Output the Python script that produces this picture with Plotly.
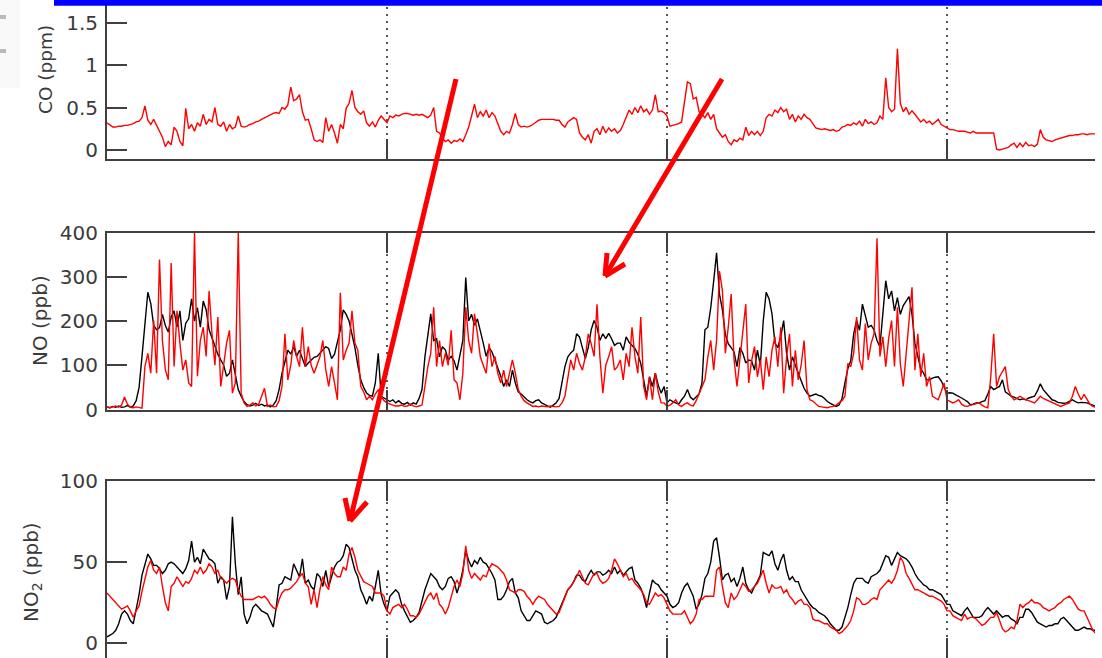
import plotly.graph_objects as go

W, H = 1102, 658
STEP_H = 0.25  # quarter-hourly samples

co_ppm = [0.32,0.29,0.27,0.27,0.28,0.28,0.29,0.29,0.30,0.31,0.33,0.34,
          0.38,0.52,0.35,0.30,0.36,0.28,0.22,0.15,0.04,0.10,0.06,0.27,
          0.22,0.10,0.05,0.49,0.25,0.30,0.22,0.32,0.28,0.42,0.30,0.36,
          0.33,0.50,0.30,0.28,0.33,0.22,0.30,0.25,0.27,0.40,0.28,0.27,
          0.28,0.30,0.31,0.33,0.34,0.36,0.38,0.40,0.41,0.43,0.44,0.43,
          0.50,0.48,0.53,0.74,0.58,0.60,0.65,0.45,0.35,0.36,0.25,0.12,
          0.10,0.12,0.09,0.38,0.22,0.30,0.20,0.08,0.30,0.25,0.49,0.55,
          0.70,0.50,0.45,0.42,0.46,0.32,0.28,0.33,0.27,0.35,0.40,0.36,
          0.32,0.40,0.38,0.41,0.40,0.42,0.43,0.43,0.42,0.41,0.42,0.41,
          0.42,0.40,0.38,0.41,0.50,0.22,0.20,0.14,0.10,0.12,0.08,0.11,
          0.10,0.13,0.10,0.18,0.27,0.40,0.54,0.38,0.45,0.40,0.47,0.38,
          0.44,0.40,0.30,0.22,0.18,0.22,0.20,0.30,0.43,0.30,0.27,0.28,
          0.27,0.28,0.30,0.33,0.35,0.36,0.36,0.36,0.36,0.36,0.35,0.35,
          0.30,0.27,0.33,0.35,0.38,0.36,0.20,0.15,0.12,0.18,0.08,0.22,
          0.25,0.18,0.28,0.20,0.26,0.22,0.25,0.20,0.23,0.30,0.38,0.47,
          0.42,0.50,0.44,0.52,0.45,0.48,0.42,0.47,0.65,0.45,0.46,0.44,
          0.40,0.28,0.29,0.30,0.31,0.33,0.55,0.80,0.78,0.60,0.62,0.45,
          0.42,0.38,0.44,0.36,0.42,0.25,0.20,0.15,0.18,0.10,0.06,0.12,
          0.10,0.14,0.12,0.27,0.17,0.22,0.18,0.22,0.17,0.22,0.38,0.42,
          0.40,0.47,0.44,0.50,0.45,0.48,0.36,0.42,0.33,0.40,0.36,0.42,
          0.38,0.36,0.31,0.26,0.25,0.24,0.25,0.24,0.23,0.24,0.22,0.23,
          0.27,0.28,0.30,0.29,0.32,0.30,0.34,0.28,0.36,0.31,0.33,0.30,
          0.32,0.40,0.36,0.85,0.50,0.45,0.48,1.19,0.55,0.45,0.50,0.42,
          0.46,0.42,0.38,0.33,0.36,0.32,0.34,0.30,0.33,0.36,0.30,0.28,
          0.26,0.24,0.24,0.23,0.22,0.22,0.22,0.21,0.20,0.22,0.20,0.20,
          0.20,0.20,0.20,0.20,0.20,0.01,0.00,0.01,0.02,0.03,0.06,0.08,
          0.03,0.08,0.04,0.09,0.05,0.06,0.04,0.07,0.24,0.15,0.12,0.11,
          0.10,0.12,0.13,0.14,0.15,0.16,0.17,0.17,0.18,0.18,0.19,0.19,
          0.18,0.19,0.19,0.19]

no_black = [6,4,7,5,8,5,6,9,5,8,20,50,
            120,200,265,240,190,180,185,215,190,175,209,223,
            186,223,156,195,205,250,200,230,186,245,225,180,
            160,142,125,112,100,75,82,112,80,45,30,18,
            11,8,10,14,9,12,8,10,6,10,20,45,
            82,110,134,125,142,120,134,115,97,105,112,118,
            120,127,135,142,138,115,125,150,180,225,215,200,
            171,140,100,67,50,37,32,30,60,127,30,25,
            22,18,22,15,20,14,12,16,10,15,12,25,
            45,119,165,216,156,160,119,142,135,112,120,110,
            89,119,156,298,200,215,190,205,180,150,120,140,
            130,112,97,75,52,67,52,89,60,40,35,28,
            22,18,15,20,22,15,12,8,5,10,15,25,
            60,97,119,128,134,171,164,142,115,140,180,201,
            186,156,171,160,172,160,145,150,150,134,164,152,
            145,138,125,104,67,30,74,52,82,55,37,52,
            15,22,18,15,12,22,30,45,28,22,28,35,
            60,180,186,230,290,354,260,225,170,149,140,130,
            97,140,127,105,112,110,89,134,100,200,265,250,
            216,150,140,165,201,127,89,119,100,80,65,48,
            37,30,32,35,32,30,25,18,14,10,7,10,
            25,60,92,110,171,201,179,238,210,186,190,180,
            156,142,216,291,250,268,223,253,215,235,245,255,
            215,150,120,92,82,67,67,71,73,74,65,50,
            37,38,37,33,30,26,22,18,11,12,15,15,
            18,20,35,52,45,48,52,67,40,35,30,28,
            25,22,24,22,26,28,30,42,58,45,37,28,
            22,20,16,15,14,15,19,22,18,15,16,15,
            15,12,9,7]

no_red = [5,4,6,8,5,10,28,12,5,4,6,5,
          3,97,127,82,201,82,339,156,90,67,331,97,
          223,149,89,112,60,52,400,75,156,186,120,268,
          171,100,209,52,97,150,179,37,60,400,37,15,
          7,10,15,8,12,30,48,7,10,6,7,20,
          52,171,67,100,156,120,97,186,97,142,100,82,
          100,119,156,90,52,97,60,22,264,112,134,150,
          223,150,134,52,40,22,30,22,35,45,30,20,
          15,12,10,8,8,10,7,8,12,8,6,8,
          10,52,97,127,231,97,156,97,127,100,179,67,
          60,22,82,231,156,127,216,171,119,100,82,149,
          97,120,82,60,89,52,82,112,82,45,30,20,
          15,10,7,8,6,8,7,6,8,7,6,7,
          15,30,67,112,89,127,104,89,119,171,149,120,
          238,119,37,100,119,142,89,97,112,67,127,97,
          186,120,82,209,52,22,74,22,82,40,15,15,
          7,10,15,22,10,7,12,15,10,8,20,37,
          50,67,119,156,89,156,313,268,127,186,261,112,
          52,112,171,238,60,110,142,74,112,45,119,74,
          134,164,97,186,37,119,171,52,134,67,100,156,
          45,22,19,12,7,6,5,4,6,7,10,15,
          20,30,104,97,127,209,112,89,194,112,150,171,
          387,120,164,97,160,201,97,231,104,52,130,201,
          276,89,171,74,127,52,74,30,25,22,40,60,
          22,18,15,18,22,12,8,7,10,11,13,15,
          10,6,4,74,171,52,74,85,97,45,30,22,
          25,30,26,22,20,18,15,22,30,25,22,18,
          15,12,9,7,10,12,15,30,52,35,22,34,
          22,12,7,5]

no2_black = [4,5,6,8,12,18,20,18,14,12,20,30,
             42,48,55,52,48,48,46,43,45,49,50,49,
             47,45,43,46,51,63,50,53,49,58,55,52,
             51,49,37,41,39,27,35,78,49,30,41,18,
             12,16,22,24,22,20,19,18,14,10,22,36,
             37,41,40,39,49,45,41,52,37,39,35,33,
             43,41,35,45,35,41,47,50,51,54,61,59,
             52,45,41,33,29,24,29,26,35,45,30,24,
             20,29,31,33,31,24,20,16,13,14,16,19,
             26,33,38,43,41,39,35,33,35,40,41,38,
             31,37,45,57,51,47,51,49,53,50,49,46,
             43,39,27,27,29,33,38,40,31,28,20,17,
             14,14,17,20,19,18,13,12,13,14,16,20,
             24,29,33,35,38,42,42,39,38,42,45,42,
             44,44,42,43,45,43,47,43,45,42,44,46,
             47,39,37,34,29,22,31,39,37,36,33,31,
             29,24,22,23,25,31,35,37,33,29,21,24,
             30,40,43,50,63,65,53,39,42,43,38,40,
             35,40,47,37,33,31,35,38,42,56,55,54,
             57,49,45,51,55,45,39,41,38,38,33,30,
             27,24,22,21,19,18,17,15,12,10,8,8,
             10,16,22,30,37,40,40,40,38,37,41,42,
             43,45,50,54,53,48,52,56,54,53,52,50,
             47,43,40,38,36,35,33,33,32,31,30,27,
             24,24,20,19,18,17,20,22,19,16,16,16,
             17,20,22,20,18,20,18,16,17,17,15,14,
             12,16,16,21,21,19,16,13,12,11,10,11,
             11,12,12,15,16,14,12,10,8,8,9,10,
             9,9,8,8]

no2_red = [31,29,27,25,23,21,22,23,20,16,20,23,
           32,40,47,51,45,43,47,35,25,20,35,37,
           41,38,35,38,37,40,45,43,47,43,45,49,
           47,43,45,40,39,37,39,40,39,33,29,27,
           27,27,27,28,29,28,29,27,24,22,21,27,
           31,33,33,34,36,38,41,43,37,35,24,33,
           22,33,41,36,33,47,43,41,41,47,45,55,
           59,53,45,41,38,37,36,35,31,31,31,29,
           20,18,22,23,24,22,24,21,17,17,16,18,
           22,26,29,31,27,31,24,22,18,22,28,35,
           39,35,43,60,45,40,43,41,39,42,41,46,
           49,48,47,45,43,39,33,32,31,33,33,32,
           29,27,24,27,29,28,27,24,22,20,18,19,
           24,29,33,35,38,41,45,41,37,36,40,43,
           43,39,37,38,40,45,52,49,45,41,43,39,
           40,37,35,33,30,25,24,28,31,29,30,28,
           24,20,18,18,18,18,20,16,12,14,18,27,
           27,29,29,29,29,45,47,35,25,22,31,27,
           29,33,37,35,32,33,35,37,41,45,37,31,
           36,34,34,35,31,33,29,27,24,26,27,24,
           24,22,15,14,14,13,12,12,10,9,8,6,
           7,9,11,14,20,28,27,24,24,25,27,28,
           27,33,35,37,39,37,40,45,53,50,43,40,
           36,33,33,32,31,30,29,29,28,27,26,24,
           20,20,17,16,15,14,18,15,16,16,15,13,
           11,12,14,16,16,19,14,9,7,8,10,9,
           14,24,22,24,25,27,25,25,24,22,21,20,
           21,22,24,25,27,28,29,27,24,21,20,20,
           16,12,8,6]

hours = [i * STEP_H for i in range(len(co_ppm))]
day_ticks = [0, 24, 48, 72]
co_ticks = [0, 0.5, 1, 1.5]
co_ticktext = ["0", "0.5", "1", "1.5"]
no_ticks = [0, 100, 200, 300, 400]
no2_ticks = [0, 50, 100]


def fx(px):
    return px / W


def fy(py):
    return 1 - py / H


fig = go.Figure()
fig.add_trace(go.Scatter(x=hours, y=co_ppm, mode="lines",
                         line=dict(color="#ff0000", width=1.4), xaxis="x", yaxis="y"))
fig.add_trace(go.Scatter(x=hours, y=no_black, mode="lines",
                         line=dict(color="#000000", width=1.4), xaxis="x2", yaxis="y2"))
fig.add_trace(go.Scatter(x=hours, y=no_red, mode="lines",
                         line=dict(color="#ff0000", width=1.4), xaxis="x2", yaxis="y2"))
fig.add_trace(go.Scatter(x=hours, y=no2_black, mode="lines",
                         line=dict(color="#000000", width=1.4), xaxis="x3", yaxis="y3"))
fig.add_trace(go.Scatter(x=hours, y=no2_red, mode="lines",
                         line=dict(color="#ff0000", width=1.4), xaxis="x3", yaxis="y3"))

AX = "#404040"
FONT = dict(family="DejaVu Sans", size=20, color="#3a3a3a")
common = dict(showline=True, linecolor=AX, linewidth=2, ticks="inside", ticklen=20,
              tickwidth=2, tickcolor=AX, zeroline=False, tickfont=FONT, automargin=False)
xrange_h = [0, (1095 - 107) / 280 * 24]
xcommon = dict(common, range=xrange_h, domain=[fx(107), fx(1095)], tickvals=day_ticks,
               showticklabels=False, showgrid=True, gridcolor="#555555", gridwidth=1.5,
               griddash="2px,5px")
ycommon = dict(common, showgrid=False, ticklabelstandoff=3)

fig.update_layout(
    width=W, height=H, autosize=False,
    margin=dict(l=0, r=0, t=0, b=0, pad=0),
    paper_bgcolor="white", plot_bgcolor="white",
    showlegend=False,
    xaxis=dict(xcommon, anchor="y", mirror=False),
    xaxis2=dict(xcommon, anchor="y2", mirror="ticks"),
    xaxis3=dict(xcommon, anchor="y3", mirror="ticks"),
    yaxis=dict(ycommon, anchor="x", domain=[fy(159), 1],
               range=[-9 / 85, 150 / 85], tickvals=co_ticks, ticktext=co_ticktext),
    yaxis2=dict(ycommon, anchor="x2", domain=[fy(409.5), fy(232.5)],
                range=[0, 400], tickvals=no_ticks),
    yaxis3=dict(ycommon, anchor="x3", domain=[0, fy(481)],
                range=[-9.06, 100], tickvals=no2_ticks),
)

shapes = []
shapes.append(dict(type="rect", xref="paper", yref="paper", x0=fx(54), x1=1, y0=fy(5.7), y1=1,
                   fillcolor="#0000ff", line=dict(width=0), layer="above"))
shapes.append(dict(type="rect", xref="paper", yref="paper", x0=0, x1=fx(20), y0=fy(88), y1=1,
                   fillcolor="#f9f9f9", line=dict(width=0), layer="below"))
for yy in (17, 51):
    shapes.append(dict(type="rect", xref="paper", yref="paper", x0=0, x1=fx(6),
                       y0=fy(yy + 2), y1=fy(yy - 2), fillcolor="#a0a0a0",
                       line=dict(width=0), layer="above", opacity=0.7))


def seg(p, q, w=5):
    return dict(type="line", xref="paper", yref="paper", x0=fx(p[0]), y0=fy(p[1]),
                x1=fx(q[0]), y1=fy(q[1]), line=dict(color="#ff0000", width=w), layer="above")


tip1 = (350, 521)
shapes.append(seg((456, 79), tip1))
shapes.append(seg((345, 498), tip1))
shapes.append(seg((367, 502), tip1))
tip2 = (605, 276)
shapes.append(seg((722, 79), tip2))
shapes.append(seg((607, 253), tip2))
shapes.append(seg((625, 264), tip2))
fig.update_layout(shapes=shapes)

TFONT = dict(family="DejaVu Sans", color="#3a3a3a")
ann = []
ann.append(dict(text="CO (ppm)", x=fx(45), y=fy(70), xref="paper", yref="paper",
                xanchor="center", yanchor="middle", textangle=-90, showarrow=False,
                font=dict(TFONT, size=18.5)))
ann.append(dict(text="NO (ppb)", x=fx(40), y=fy(321), xref="paper", yref="paper",
                xanchor="center", yanchor="middle", textangle=-90, showarrow=False,
                font=dict(TFONT, size=20)))
ann.append(dict(text="NO<sub>2</sub> (ppb)", x=fx(32), y=fy(572), xref="paper", yref="paper",
                xanchor="center", yanchor="middle", textangle=-90, showarrow=False,
                font=dict(TFONT, size=20)))
fig.update_layout(annotations=ann)

fig.write_html("out.html", config={"displayModeBar": False},
               post_script="document.body.style.margin='0';")
